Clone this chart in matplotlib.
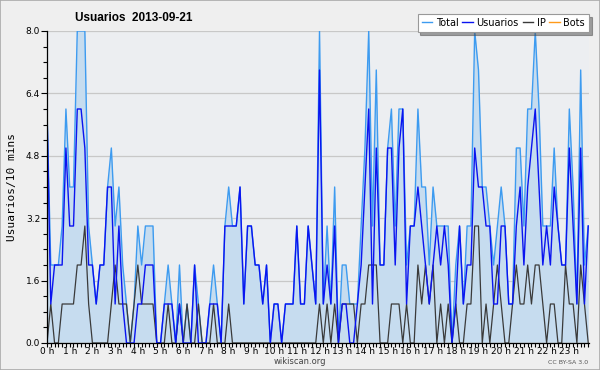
import numpy as np
import matplotlib
matplotlib.use("Agg")
import matplotlib.pyplot as plt
from matplotlib.patches import Rectangle
from matplotlib.ticker import MultipleLocator

# 10-minute buckets for 2013-09-21 (144 values)
total = [6, 2, 2, 2, 3, 6,  4, 4, 8, 8, 8, 3,  2, 1, 2, 2, 4, 5,  3, 4, 2, 1, 0, 1,
         3, 2, 3, 3, 3, 0,  0, 1, 2, 1, 0, 2,  0, 1, 0, 2, 1, 0,  0, 1, 2, 1, 0, 3,
         4, 3, 3, 4, 1, 3,  3, 2, 2, 1, 2, 0,  1, 1, 0, 1, 1, 1,  3, 1, 1, 3, 2, 1,
         8, 1, 3, 1, 4, 0,  2, 2, 1, 1, 1, 3,  5, 8, 3, 7, 2, 2,  5, 6, 3, 6, 6, 2,
         3, 3, 6, 4, 4, 2,  4, 3, 3, 3, 3, 0,  2, 3, 1, 3, 3, 8,  7, 4, 4, 3, 2, 3,
         4, 3, 1, 1, 5, 5,  3, 6, 6, 8, 6, 3,  3, 3, 5, 3, 2, 2,  6, 4, 1, 7, 2, 3]
usuarios = [6, 1, 2, 2, 2, 5,  3, 3, 6, 6, 5, 2,  2, 1, 2, 2, 4, 4,  1, 3, 1, 0, 0, 0,
            1, 1, 2, 2, 2, 0,  0, 1, 1, 1, 0, 1,  0, 0, 0, 2, 0, 0,  0, 1, 1, 1, 0, 3,
            3, 3, 3, 4, 1, 3,  3, 2, 2, 1, 2, 0,  1, 1, 0, 1, 1, 1,  3, 1, 1, 3, 2, 1,
            7, 1, 2, 1, 3, 0,  1, 1, 0, 0, 1, 2,  4, 6, 1, 5, 2, 2,  5, 5, 2, 5, 6, 1,
            3, 3, 4, 3, 2, 1,  2, 3, 2, 3, 2, 0,  1, 3, 1, 2, 2, 5,  4, 4, 3, 3, 1, 1,
            3, 3, 1, 1, 3, 4,  2, 4, 5, 6, 4, 2,  3, 2, 4, 3, 2, 2,  5, 3, 1, 5, 1, 3]
ip = [0, 1, 0, 0, 1, 1,  1, 1, 2, 2, 3, 1,  0, 0, 0, 0, 0, 1,  2, 1, 1, 1, 0, 1,
      2, 1, 1, 1, 1, 0,  0, 0, 1, 0, 0, 1,  0, 1, 0, 0, 1, 0,  0, 0, 1, 0, 0, 0,
      1, 0, 0, 0, 0, 0,  0, 0, 0, 0, 0, 0,  0, 0, 0, 0, 0, 0,  0, 0, 0, 0, 0, 0,
      1, 0, 1, 0, 1, 0,  1, 1, 1, 1, 0, 1,  1, 2, 2, 2, 0, 0,  0, 1, 1, 1, 0, 1,
      0, 0, 2, 1, 2, 1,  2, 0, 1, 0, 1, 0,  1, 0, 0, 1, 1, 3,  3, 0, 1, 0, 1, 2,
      1, 0, 0, 1, 2, 1,  1, 2, 1, 2, 2, 1,  0, 1, 1, 0, 0, 2,  1, 1, 0, 2, 1, 0]
bots = [0] * 144

hour_labels = [f"{h} h" for h in range(24)]
y_ticks = [0.0, 1.6, 3.2, 4.8, 6.4, 8.0]

C_TOTAL = "#3d9bf0"
C_USR   = "#0a14f0"
C_IP    = "#3a3a3a"
C_BOTS  = "#ff9a1a"

x = np.arange(len(total))

fig = plt.figure(figsize=(6.0, 3.7), dpi=100, facecolor="#efefef")
ax = fig.add_axes([47/600, 27/370, 542/600, 312/370])
ax.set_facecolor("#eceef1")

ax.fill_between(x, total, 0, color="#c6dcef", lw=0, zorder=1)
ax.plot(x, bots, color=C_BOTS, lw=0.8, zorder=1.5)
ax.plot(x, total, color=C_TOTAL, lw=1.0, zorder=3)
ax.plot(x, ip, color=C_IP, lw=0.9, zorder=4)
ax.plot(x, usuarios, color=C_USR, lw=1.0, zorder=5)

ax.set_xlim(0, 143.2)
ax.set_ylim(0, 8.0)
ax.set_yticks(y_ticks)
ax.set_yticklabels([f"{v:.1f}" for v in y_ticks], fontsize=6.5)
ax.yaxis.set_minor_locator(MultipleLocator(0.4))
ax.set_xticks(np.arange(0, 144, 6))
ax.set_xticklabels(hour_labels, fontsize=6.5)
ax.xaxis.set_minor_locator(MultipleLocator(1))
ax.tick_params(axis="y", which="major", length=4, width=0.8, pad=1)
ax.tick_params(axis="y", which="minor", length=3, width=0.8)
ax.tick_params(axis="x", which="both", length=3, width=0.8, pad=0)
ax.grid(axis="y", color="#c8c8c8", lw=0.9, zorder=0)
ax.set_axisbelow(True)
for s in ["top", "right"]:
    ax.spines[s].set_visible(False)
for s in ["left", "bottom"]:
    ax.spines[s].set_linewidth(0.9)
    ax.spines[s].set_zorder(6)

ax.set_ylabel("Usuarios/10 mins", fontsize=8, family="DejaVu Sans Mono",
              labelpad=6)

fig.text(75/600, 1 - 18/370, "Usuarios  2013-09-21", fontsize=8.5,
         fontweight="bold", family="Liberation Sans", va="center", ha="left")

handles = [plt.Line2D([], [], color=c, lw=1.0) for c in (C_TOTAL, C_USR, C_IP, C_BOTS)]
leg = fig.legend(handles, ["Total", "Usuarios", "IP", "Bots"], ncol=4,
                 loc="upper right", bbox_to_anchor=(589/600, 1 - 14/370),
                 fontsize=7, frameon=True, fancybox=False, shadow=True,
                 handlelength=1.1, handletextpad=0.35, columnspacing=0.4,
                 borderpad=0.4, borderaxespad=0)
leg.get_frame().set_edgecolor("#999999")
leg.get_frame().set_linewidth(0.8)

fig.text(300/600, 1 - 362/370, "wikiscan.org", fontsize=6, ha="center",
         va="center", color="#444444")
fig.text(568/600, 1 - 362/370, "CC BY-SA 3.0", fontsize=4.5, ha="center",
         va="center", color="#555555")

fig.patches.append(Rectangle((0, 0), 1, 1, transform=fig.transFigure,
                             fill=False, edgecolor="#aaaaaa", lw=1.2))

fig.savefig("out.png", dpi=100, facecolor=fig.get_facecolor())
